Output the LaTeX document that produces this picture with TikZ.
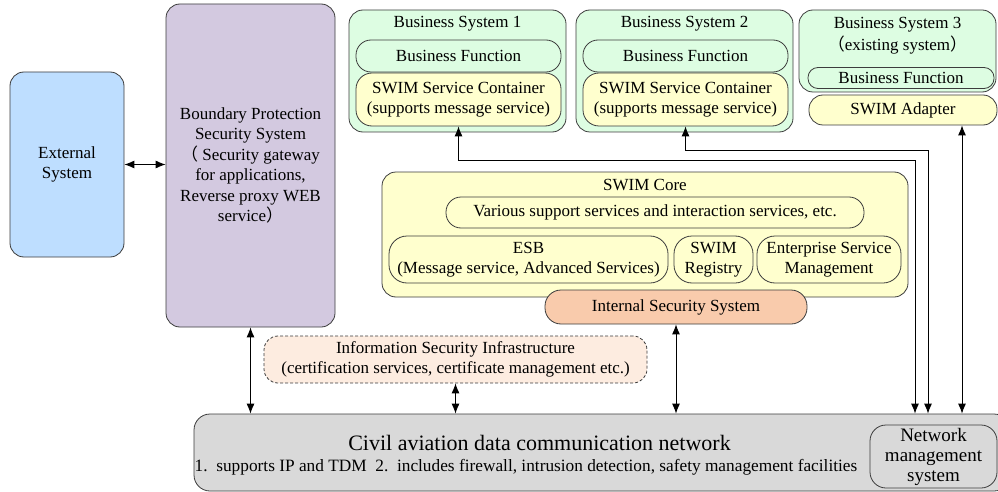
\documentclass[tikz,border=0pt]{standalone}
\usepackage{fontspec}
\setmainfont{Liberation Serif}
\newfontfamily\cjk{Noto Sans CJK SC}
\usetikzlibrary{arrows.meta}
\definecolor{linec}{RGB}{60,60,60}
\definecolor{extc}{RGB}{190,222,255}
\definecolor{bndc}{RGB}{211,201,224}
\definecolor{bsc}{RGB}{221,253,226}
\definecolor{ylw}{RGB}{255,255,206}
\definecolor{intc}{RGB}{249,203,172}
\definecolor{infc}{RGB}{253,236,224}
\definecolor{netc}{RGB}{217,217,217}
\begin{document}
\begin{tikzpicture}[x=1pt,y=-1pt,
  box/.style={draw=linec, line width=0.8pt, rounded corners=14pt, align=center, inner sep=0pt,
    font=\fontsize{17}{20.5}\selectfont},
  pill/.style={box, rounded corners=12pt},
  txt/.style={align=center, inner sep=0pt, font=\fontsize{17}{20.5}\selectfont},
  dar/.style={{Latex[length=10pt,width=8pt]}-{Latex[length=10pt,width=8pt]}, line width=0.9pt, black},
]
\useasboundingbox (0,0) rectangle (998,492);
\clip (0,0) rectangle (998,492);

% left side
\node[box, fill=extc, minimum width=114pt, minimum height=185pt] (ext) at (67,164.5) {External\\System};
\node[box, fill=bndc, minimum width=169pt, minimum height=323pt] (bnd) at (250.5,165.5)
  {Boundary Protection\\Security System\\{\cjk （}\ Security gateway\\for applications,\\Reverse proxy WEB\\service{\cjk ）}};

% business systems
\node[box, fill=bsc, minimum width=217pt, minimum height=122pt] (bs1) at (457.5,71) {};
\node[txt] (t1) at (457.5,24) {Business System 1};
\node[pill, fill=bsc, minimum width=205pt, minimum height=32pt, rounded corners=15pt] (f1) at (458.5,56) {Business Function};
\node[pill, fill=ylw, minimum width=205pt, minimum height=53pt, rounded corners=16pt] (c1) at (458.5,99.5) {SWIM Service Container\\(supports message service)};

\node[box, fill=bsc, minimum width=217pt, minimum height=122pt] (bs2) at (684.5,71) {};
\node[txt] (t2) at (684.5,24) {Business System 2};
\node[pill, fill=bsc, minimum width=205pt, minimum height=32pt, rounded corners=15pt] (f2) at (685.5,56) {Business Function};
\node[pill, fill=ylw, minimum width=205pt, minimum height=53pt, rounded corners=16pt] (c2) at (685.5,99.5) {SWIM Service Container\\(supports message service)};

\node[box, fill=bsc, minimum width=197pt, minimum height=82pt] (bs3) at (897.5,51) {};
\node[txt] (t3) at (897.5,24.5) {Business System 3};
\node[txt] (t3b) at (897.5,45.5) {{\cjk （}existing system{\cjk ）}};
\node[pill, fill=bsc, minimum width=186pt, minimum height=21pt, rounded corners=10pt] (f3) at (901,78) {Business Function};
\node[pill, fill=ylw, minimum width=188pt, minimum height=30pt, rounded corners=14pt] (ad) at (903,110) {SWIM Adapter};

% SWIM core
\node[box, fill=ylw, minimum width=526pt, minimum height=125pt] (core) at (645,234.5) {};
\node[txt] (ct) at (645,185) {SWIM Core};
\node[pill, fill=ylw, minimum width=418pt, minimum height=31pt, rounded corners=15pt] (var) at (655,212.5) {Various support services and interaction services, etc.};
\node[pill, fill=ylw, minimum width=279pt, minimum height=47pt, rounded corners=18pt] (esb) at (528.5,259.5) {ESB\\(Message service, Advanced Services)};
\node[pill, fill=ylw, minimum width=79pt, minimum height=47pt, rounded corners=18pt] (reg) at (713.5,259.5) {SWIM\\Registry};
\node[pill, fill=ylw, minimum width=144pt, minimum height=47pt, rounded corners=18pt] (esm) at (829,259.5) {Enterprise Service\\Management};
\node[pill, fill=intc, minimum width=262pt, minimum height=34pt, rounded corners=16pt] (int) at (676,307) {Internal Security System};

% infrastructure
\node[box, fill=infc, densely dashed, minimum width=383pt, minimum height=47pt] (inf) at (455.5,359.5)
  {Information Security Infrastructure\\(certification services, certificate management etc.)};

% network
\node[box, fill=netc, minimum width=816pt, minimum height=77pt, rounded corners=16pt] (net) at (602,452.5) {};
\node[txt, font=\fontsize{22}{26}\selectfont] (nt1) at (539.5,443) {Civil aviation data communication network};
\node[txt, font=\fontsize{17.3}{20}\selectfont] (nt2) at (526,467) {1.\ \ supports IP and TDM\ \ 2.\ \ includes firewall, intrusion detection, safety management facilities};
\node[box, fill=netc, minimum width=127pt, minimum height=63pt, rounded corners=16pt, font=\fontsize{19}{20}\selectfont] (nms) at (933.5,456.5) {Network\\management\\system};

% connectors
\draw[dar] (ext.east) -- (bnd.west |- ext.east);
\draw[dar] (bnd.south) -- (bnd.south |- net.north);
\draw[dar] (inf.south) -- (inf.south |- net.north);
\draw[dar] (int.south) -- (int.south |- net.north);
\coordinate (k1) at (915,160);
\coordinate (k2) at (928,150);
\coordinate (k3) at (962,130);
\draw[dar] (c1.south) |- (k1) -- (k1 |- net.north);
\draw[dar] (c2.south) |- (k2) -- (k2 |- net.north);
\draw[dar] (ad.south -| k3) -- (k3 |- net.north);
\end{tikzpicture}
\end{document}
